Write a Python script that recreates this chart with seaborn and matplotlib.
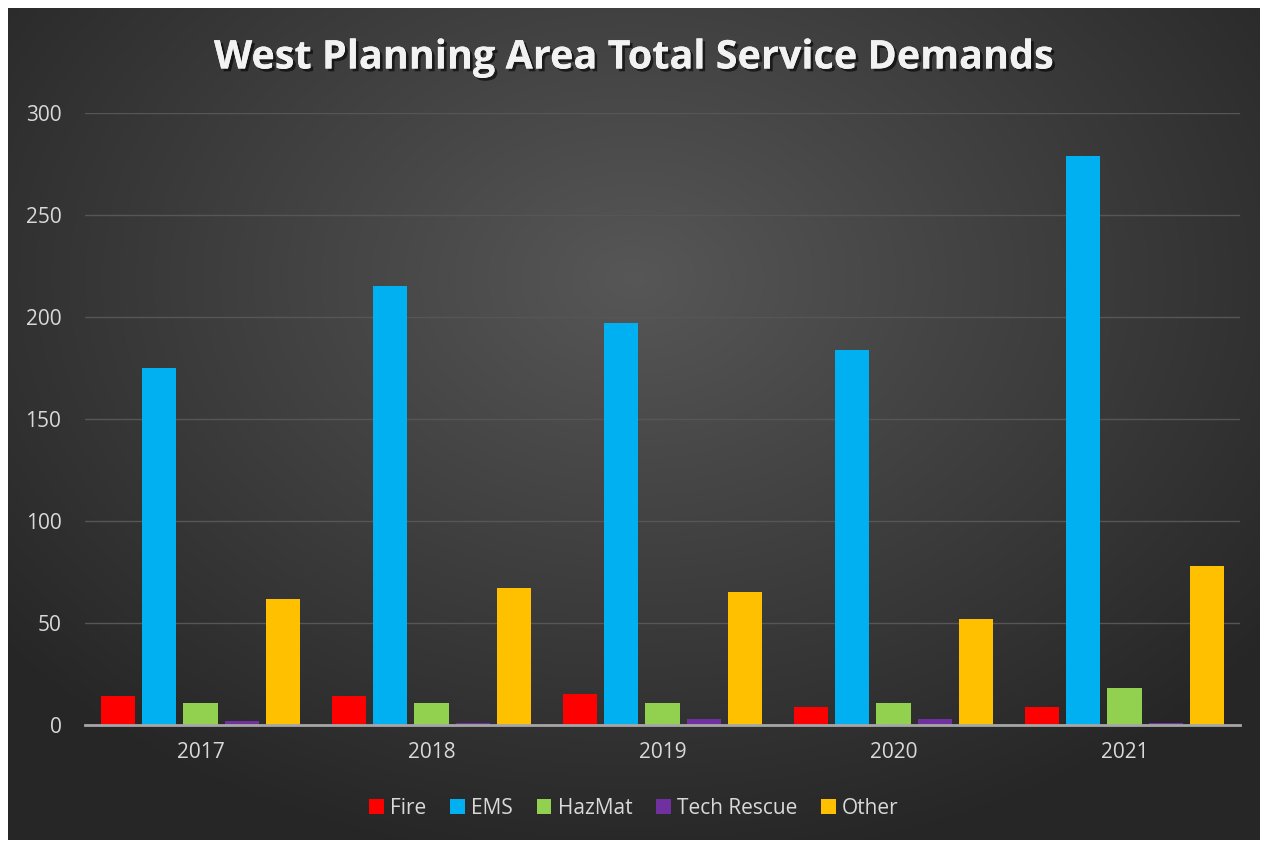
import numpy as np
import pandas as pd
import matplotlib.pyplot as plt
import matplotlib.patheffects as pe
from matplotlib.patches import Patch
import seaborn as sns

# values
years = ["2017", "2018", "2019", "2020", "2021"]
fire = [14, 14, 15, 9, 9]
ems = [175, 215, 197, 184, 279]
hazmat = [11, 11, 11, 11, 18]
tech_rescue = [2, 1, 3, 3, 1]
other = [62, 67, 65, 52, 78]
series_names = ["Fire", "EMS", "HazMat", "Tech Rescue", "Other"]
colors = ["#ff0000", "#00b0f0", "#92d050", "#7030a0", "#ffc000"]

df = pd.DataFrame({"year": years, "Fire": fire, "EMS": ems, "HazMat": hazmat,
                   "Tech Rescue": tech_rescue, "Other": other})
df = df.melt(id_vars="year", var_name="type", value_name="count")

sns.set_theme(style="dark")
plt.rcParams['font.family'] = ['Open Sans', 'DejaVu Sans']

W, H = 1268, 844
fig = plt.figure(figsize=(W / 100, H / 100), dpi=100)
fig.patch.set_facecolor("white")

# dark radial gradient background
bg = fig.add_axes([8 / W, 1 - 840 / H, 1252 / W, 832 / H])
gx, gy = np.meshgrid(np.linspace(-1, 1, 400), np.linspace(-1, 1, 300))
r = np.sqrt(gx ** 2 + ((gy + 0.35) / 1.1) ** 2)
shade = 0.34 - 0.19 * np.clip(r, 0, 1.3) / 1.3
bg.imshow(np.dstack([shade] * 3), aspect="auto", extent=[0, 1, 0, 1])
bg.axis("off")

ax = fig.add_axes([85 / W, 1 - 725 / H, 1155 / W, 612 / H])
ax.patch.set_alpha(0)
sns.barplot(data=df, x="year", y="count", hue="type", hue_order=series_names,
            palette=colors, width=0.89, gap=0.17, saturation=1, linewidth=0,
            legend=False, ax=ax)

ax.set_ylim(0, 300)
ax.set_yticks(range(0, 301, 50))
ax.set_xlabel("")
ax.set_ylabel("")
ax.grid(axis="y", color="#565656", linewidth=1)
ax.grid(axis="x", visible=False)
ax.set_axisbelow(True)
for s in ["top", "right", "left"]:
    ax.spines[s].set_visible(False)
ax.spines["bottom"].set_color("#a6a6a6")
ax.spines["bottom"].set_linewidth(2)
ax.tick_params(axis="y", length=0, pad=17, labelsize=15, labelcolor="#d9d9d9")
ax.tick_params(axis="x", length=0, pad=12, labelsize=15, labelcolor="#d9d9d9")

fig.text(0.5, 1 - 58 / H, "West Planning Area Total Service Demands",
         ha="center", va="center", fontsize=28.5, fontweight="bold", color="#f2f2f2",
         path_effects=[pe.withSimplePatchShadow(offset=(2, -2), shadow_rgbFace="black", alpha=0.6),
                       pe.Normal()])

handles = [Patch(facecolor=c, edgecolor="none") for c in colors]
leg = fig.legend(handles, series_names, loc="center", bbox_to_anchor=(0.5, 1 - 808 / H),
                 ncol=5, frameon=False, fontsize=15, handlelength=0.7, handleheight=0.7,
                 handletextpad=0.3, columnspacing=1.15)
for t in leg.get_texts():
    t.set_color("#d9d9d9")

fig.savefig("out.png", dpi=100)
